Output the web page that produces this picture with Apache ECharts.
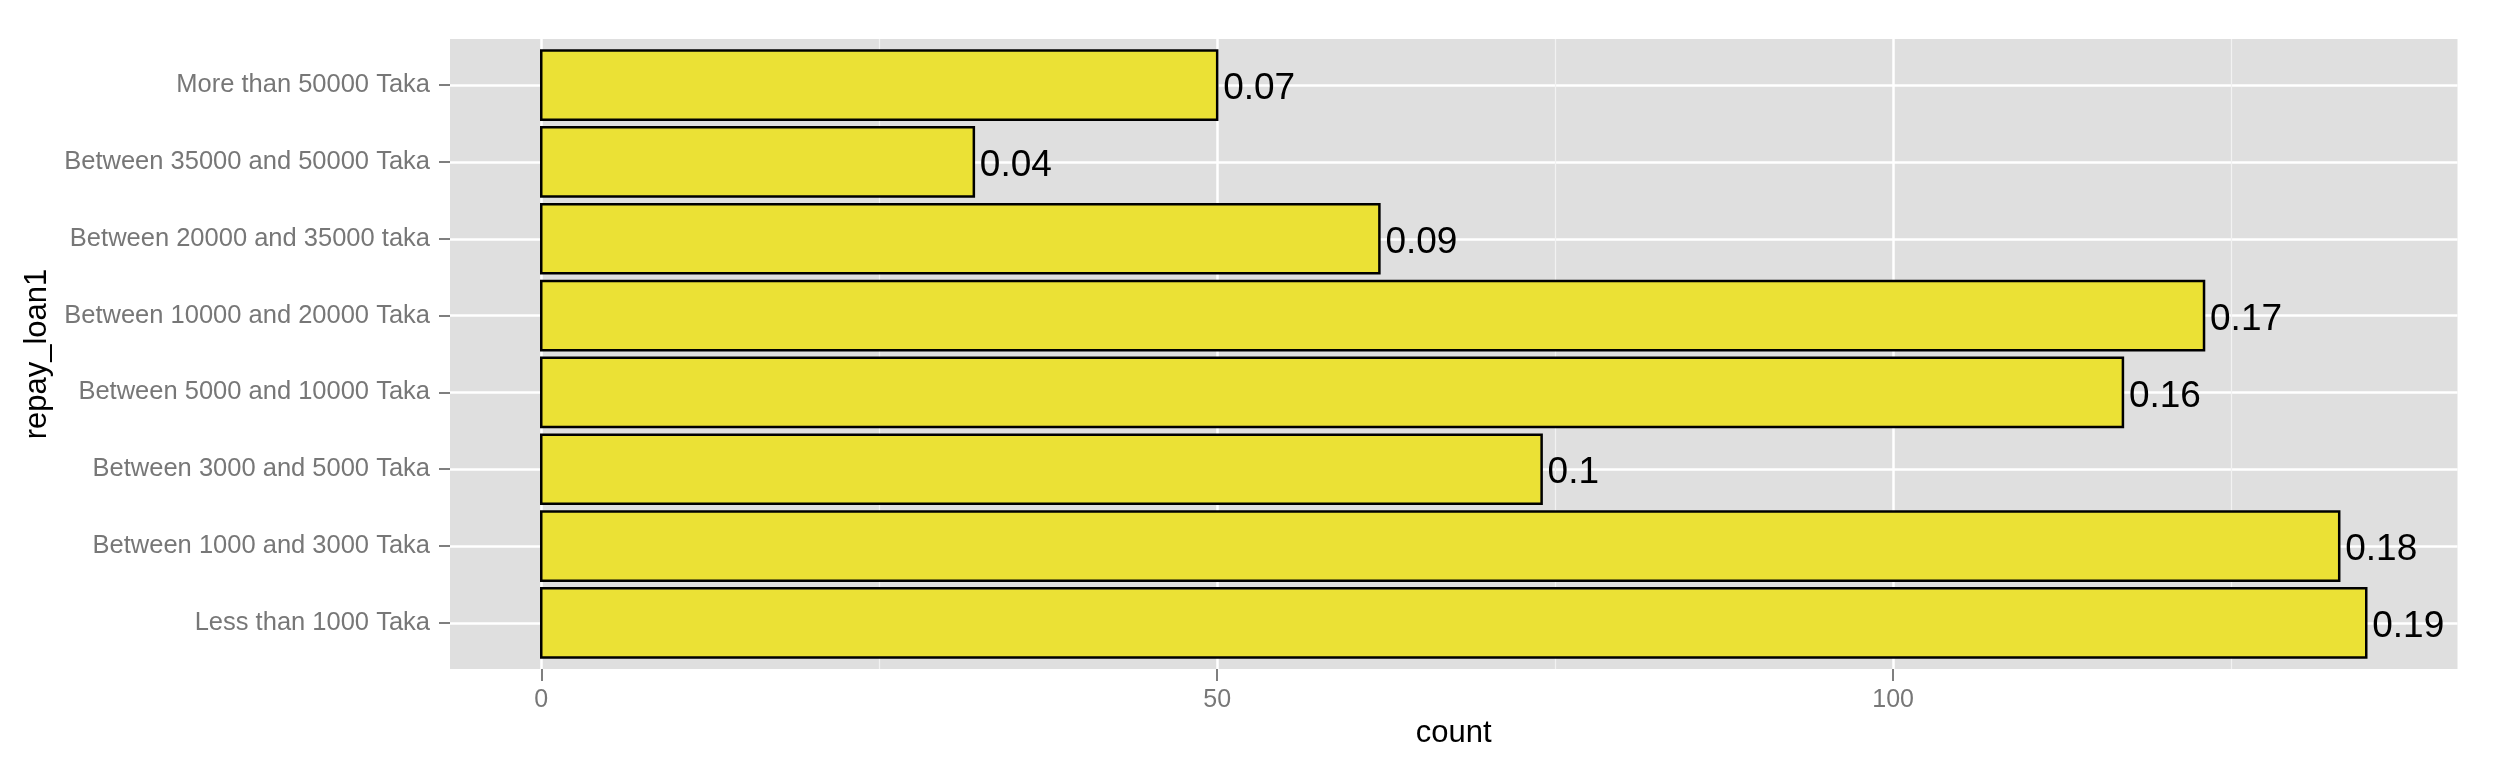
<!DOCTYPE html>
<html>

<head>
    <meta charset="UTF-8">
    <title>repay_loan1</title>
    <script type="text/javascript" src="https://cdn.jsdelivr.net/npm/echarts@6/dist/echarts.min.js"></script>
</head>

<body style="margin: 0;padding: 0;background: #fff;">
    <div id="container" style="width:2496px; height:768px;"></div>
    <script>
        // categories from bottom to top, as ggplot stacks them
        var categories = [
            "Less than 1000 Taka",
            "Between 1000 and 3000 Taka",
            "Between 3000 and 5000 Taka",
            "Between 5000 and 10000 Taka",
            "Between 10000 and 20000 Taka",
            "Between 20000 and 35000 taka",
            "Between 35000 and 50000 Taka",
            "More than 50000 Taka"
        ];
        var counts = [135, 133, 74, 117, 123, 62, 32, 50];
        var shares = ["0.19", "0.18", "0.1", "0.16", "0.17", "0.09", "0.04", "0.07"];
        var xTicks = [0, 50, 100];
        var yTicks = [1, 2, 3, 4, 5, 6, 7, 8];

        var font = "Liberation Sans, Arial, sans-serif";

        var chart = echarts.init(document.getElementById('container'), null, {
            renderer: 'canvas'
        });

        var option = {
            backgroundColor: '#ffffff',
            animation: false,
            grid: {
                left: 450,
                right: 38.5,
                top: 39,
                bottom: 99,
                show: true,
                backgroundColor: '#DFDFDF',
                borderWidth: 0,
                containLabel: false,
                outerBoundsMode: 'none'
            },
            xAxis: {
                type: 'value',
                min: -6.75,
                max: 141.75,
                minInterval: 50,
                maxInterval: 50,
                name: 'count',
                nameLocation: 'middle',
                nameGap: 47,
                nameTextStyle: { color: '#000', fontSize: 31, fontFamily: font },
                axisLine: { show: false, onZero: false },
                axisTick: {
                    show: true, length: 12, customValues: xTicks,
                    lineStyle: { color: '#7F7F7F', width: 2 }
                },
                axisLabel: {
                    show: true, customValues: xTicks, margin: 19,
                    color: '#777', fontSize: 25, fontFamily: font
                },
                splitLine: { show: true, lineStyle: { color: '#ffffff', width: 2.5 } },
                minorTick: { show: false, splitNumber: 2 },
                minorSplitLine: { show: true, lineStyle: { color: '#F2F2F2', width: 1.2 } }
            },
            yAxis: {
                type: 'value',
                min: 0.4,
                max: 8.6,
                name: 'repay_loan1',
                nameLocation: 'middle',
                nameRotate: 90,
                nameGap: 389,
                nameTextStyle: { color: '#000', fontSize: 31, fontFamily: font },
                axisLine: { show: false, onZero: false },
                axisTick: {
                    show: true, length: 11, customValues: yTicks,
                    lineStyle: { color: '#7F7F7F', width: 2 }
                },
                axisLabel: {
                    show: true, customValues: yTicks, margin: 20,
                    color: '#777', fontSize: 25.5, fontFamily: font,
                    padding: [5, 0, 0, 0],
                    formatter: function (v) { return categories[Math.round(v) - 1] || ''; }
                },
                splitLine: { show: true, lineStyle: { color: '#ffffff', width: 2.5 } }
            },
            series: [{
                type: 'custom',
                name: 'count',
                encode: { x: 0, y: 1 },
                data: counts.map(function (c, i) { return [c, i + 1]; }),
                renderItem: function (params, api) {
                    var y = api.value(1);
                    var v = api.value(0);
                    var p0 = api.coord([0, y]);
                    var p1 = api.coord([v, y]);
                    var h = api.size([0, 0.9])[1];
                    return {
                        type: 'group',
                        children: [{
                            type: 'rect',
                            shape: { x: p0[0], y: p0[1] - h / 2, width: p1[0] - p0[0], height: h },
                            style: { fill: '#EBE135', stroke: '#000000', lineWidth: 2.5 }
                        }, {
                            type: 'text',
                            style: {
                                text: shares[params.dataIndex],
                                x: p1[0] + 6,
                                y: p1[1] + 4,
                                align: 'left',
                                verticalAlign: 'middle',
                                fill: '#000000',
                                font: '37px ' + font
                            }
                        }]
                    };
                }
            }]
        };
        chart.setOption(option);
    </script>
</body>

</html>
